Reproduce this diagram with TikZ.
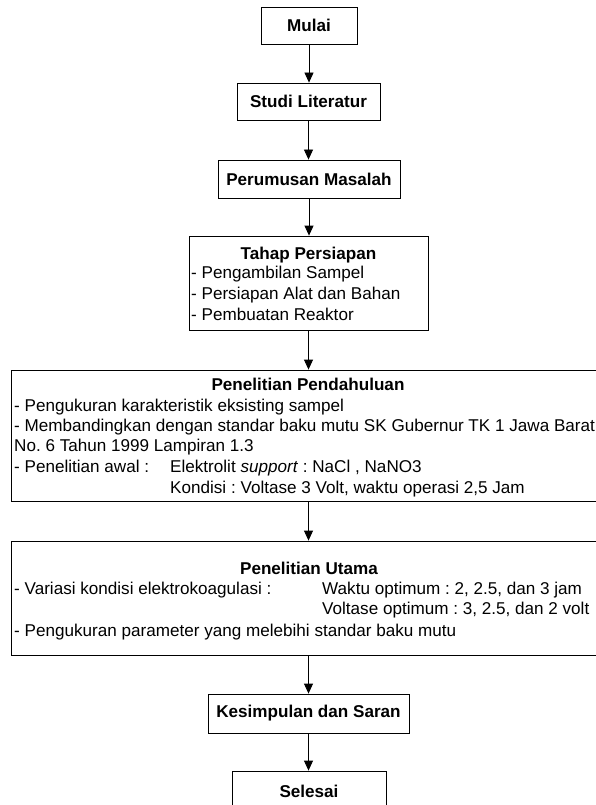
\documentclass[tikz,border=0pt]{standalone}
\usepackage{fontspec}
\setmainfont{Liberation Sans}
\usetikzlibrary{positioning,arrows.meta}
\newcommand{\flowfont}{\fontsize{17.1}{20}\selectfont\frenchspacing}
\tikzset{
  box/.style={draw, fill=white, line width=0.8pt, inner sep=0pt, font=\flowfont\bfseries},
  bigbox/.style={draw, line width=0.8pt, inner sep=0pt},
  ttl/.style={anchor=base, font=\flowfont\bfseries, inner sep=0pt},
  txt/.style={anchor=base west, inner sep=0pt},
  arr/.style={line width=0.8pt, -{Triangle[length=10pt,width=9pt]}}
}
\begin{document}
\begin{tikzpicture}[x=1pt,y=-1pt,font=\flowfont]
  \useasboundingbox (0,0) rectangle (595,805);
  % small steps
  \node[box, minimum width=96pt, minimum height=37pt] (mulai) at (309,25.5) {Mulai};
  \node[box, minimum width=143pt, minimum height=37pt] (studi) at (308.5,101.5) {Studi Literatur};
  \node[box, minimum width=182pt, minimum height=38pt] (rumus) at (309,179) {Perumusan Masalah};
  % preparation
  \node[bigbox, minimum width=239pt, minimum height=94pt] (siap) at (308.5,283) {};
  \node[ttl] (siapT) at (308.5,259) {Tahap Persiapan};
  \node[txt] at (191,278) {- Pengambilan Sampel};
  \node[txt] at (191,299) {- Persiapan Alat dan Bahan};
  \node[txt] at (191,320) {- Pembuatan Reaktor};
  % preliminary research
  \node[bigbox, minimum width=587pt, minimum height=131pt] (awal) at (304.5,435.5) {};
  \node[ttl] at (308,390) {Penelitian Pendahuluan};
  \node[txt] at (14,411) {- Pengukuran karakteristik eksisting sampel};
  \node[txt] at (14,431) {- Membandingkan dengan standar baku mutu SK Gubernur TK 1 Jawa Barat};
  \node[txt] at (14,451) {No. 6 Tahun 1999 Lampiran 1.3};
  \node[txt] at (14,472) {- Penelitian awal :};
  \node[txt] at (170,472) {Elektrolit \textit{support} : NaCl , NaNO3};
  \node[txt] at (170,493) {Kondisi : Voltase 3 Volt, waktu operasi 2,5 Jam};
  % main research
  \node[bigbox, minimum width=587pt, minimum height=114pt] (utama) at (304.5,598) {};
  \node[ttl] at (309,574) {Penelitian Utama};
  \node[txt] at (14,594) {- Variasi kondisi elektrokoagulasi :};
  \node[txt] at (322,594) {Waktu optimum : 2, 2.5, dan 3 jam};
  \node[txt] at (322,614) {Voltase optimum : 3, 2.5, dan 2 volt};
  \node[txt] at (14,636) {- Pengukuran parameter yang melebihi standar baku mutu};
  % end
  \node[box, minimum width=201pt, minimum height=39pt] (simpul) at (308.5,713.5) {Kesimpulan dan Saran};
  \node[box, minimum width=154pt, minimum height=40pt] (selesai) at (309,791) {Selesai};
  % arrows
  \draw[arr] (mulai.south) -- (mulai.south |- studi.north);
  \draw[arr] (studi.south) -- (studi.south |- rumus.north);
  \draw[arr] (rumus.south) -- (rumus.south |- siap.north);
  \draw[arr] (siap.south) -- (siap.south |- awal.north);
  \draw[arr] (siap.south |- awal.south) -- (siap.south |- utama.north);
  \draw[arr] (siap.south |- utama.south) -- (siap.south |- simpul.north);
  \draw[arr] (simpul.south) -- (simpul.south |- selesai.north);
\end{tikzpicture}
\end{document}
